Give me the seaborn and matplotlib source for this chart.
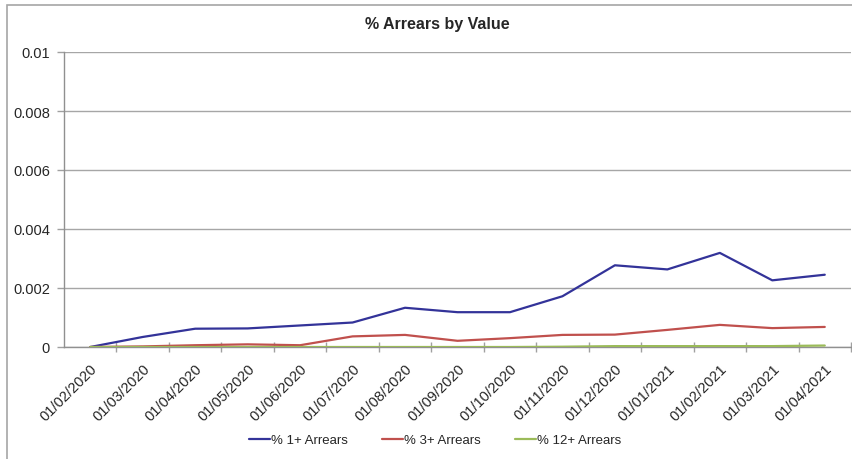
import matplotlib
matplotlib.use("Agg")
import matplotlib.pyplot as plt
import seaborn as sns
import pandas as pd
from matplotlib.patches import Rectangle
from matplotlib.lines import Line2D

dates = ["01/02/2020", "01/03/2020", "01/04/2020", "01/05/2020", "01/06/2020",
         "01/07/2020", "01/08/2020", "01/09/2020", "01/10/2020", "01/11/2020",
         "01/12/2020", "01/01/2021", "01/02/2021", "01/03/2021", "01/04/2021"]
arrears_1 = [0.0, 0.00034, 0.00062, 0.00063, 0.00073, 0.00083, 0.00133, 0.00118,
             0.00118, 0.00172, 0.00277, 0.00263, 0.00319, 0.00226, 0.00245]
arrears_3 = [0.0, 0.00002, 0.00006, 0.00009, 0.00006, 0.00036, 0.00041, 0.00021,
             0.00030, 0.00041, 0.00042, 0.00058, 0.00075, 0.00064, 0.00068]
arrears_12 = [0.0, 0.0, 0.0, 0.0, 0.0, 0.0, 0.0, 0.0, 0.0, 0.00001, 0.00003,
              0.00003, 0.00003, 0.00003, 0.00005]
series_names = ["% 1+ Arrears", "% 3+ Arrears", "% 12+ Arrears"]
colors = ["#333399", "#C0504D", "#9BBB59"]
y_ticks = [0, 0.002, 0.004, 0.006, 0.008, 0.01]
y_tick_labels = ["0", "0.002", "0.004", "0.006", "0.008", "0.01"]

rows = []
for name, vals in zip(series_names, [arrears_1, arrears_3, arrears_12]):
    for i, (d, v) in enumerate(zip(dates, vals)):
        rows.append({"pos": i, "date": d, "series": name, "value": v})
df = pd.DataFrame(rows)

sns.set_style("white")
plt.rcParams["font.family"] = ["Liberation Sans", "DejaVu Sans"]

fig = plt.figure(figsize=(8.52, 4.6), dpi=100)
ax = fig.add_axes([64 / 852, 1 - 348 / 460, (851 - 64) / 852, (348 - 53) / 460])

sns.lineplot(data=df, x="pos", y="value", hue="series", hue_order=series_names,
             palette=colors, linewidth=1.6, ax=ax, legend=False)

ax.set_xlim(-0.5, len(dates) - 0.5)
ax.set_ylim(0, 0.01)
ax.set_yticks(y_ticks)
ax.set_yticklabels(y_tick_labels, fontsize=10.5)
ax.set_xticks(range(len(dates)))
ax.set_xticklabels(dates, rotation=45, ha="right", rotation_mode="anchor", fontsize=10.5)
ax.set_xticks([i - 0.5 for i in range(1, len(dates) + 1)], minor=True)
ax.tick_params(axis="x", which="major", bottom=True, length=0, pad=10)
ax.tick_params(axis="x", which="minor", bottom=True, length=7, direction="inout",
               color="#A0A0A0", width=1)
ax.tick_params(axis="y", left=True, length=5, color="#A0A0A0", width=1, pad=5)
ax.set_xlabel("")
ax.set_ylabel("")
ax.grid(axis="y", color="#A6A6A6", linewidth=1)
ax.set_axisbelow(True)
for s in ["top", "right"]:
    ax.spines[s].set_visible(False)
for s in ["left", "bottom"]:
    ax.spines[s].set_color("#909090")
    ax.spines[s].set_linewidth(1)
ax.spines["bottom"].set_zorder(1)

handles = [Line2D([0], [0], color=c, linewidth=1.6) for c in colors]
fig.legend(handles, series_names, loc="center", bbox_to_anchor=(435 / 852, 1 - 441 / 460),
           ncol=3, frameon=False, handlelength=1.6, handletextpad=0.05, columnspacing=2.6,
           fontsize=9.5)

fig.text(437 / 852, 1 - 25 / 460, "% Arrears by Value", ha="center", va="center",
         fontsize=11.5, fontweight="bold")

fig.patches.append(Rectangle((7 / 852, -0.2), 1.2, 1.2 - 6 / 460, transform=fig.transFigure,
                             fill=False, edgecolor="#A6A6A6", linewidth=1.2, zorder=0))

fig.savefig("out.png", dpi=100)
